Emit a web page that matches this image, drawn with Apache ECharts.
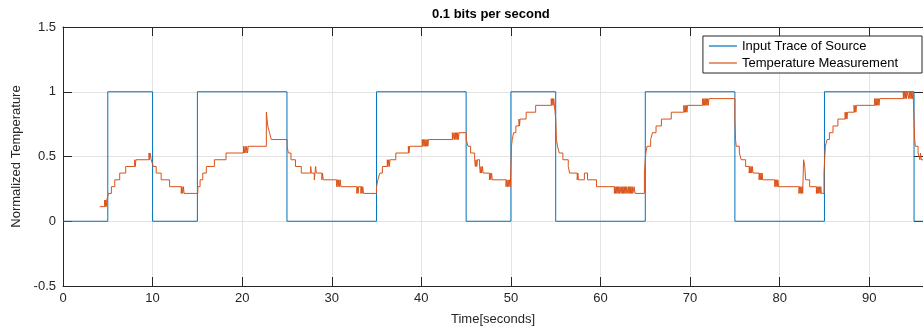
<!DOCTYPE html>
<html>
<head>
<meta charset="utf-8">
<script src="https://cdn.jsdelivr.net/npm/echarts@6/dist/echarts.min.js"></script>
<style>html,body{margin:0;padding:0;background:#fff}#chart{width:923px;height:331px}</style>
</head>
<body>
<div id="chart"></div>
<script>
// ---- data ----
const titleText = '0.1 bits per second';
const xAxisName = 'Time[seconds]';
const yAxisName = 'Normalized Temperature';
const seriesNames = ['Input Trace of Source', 'Temperature Measurement'];
const xTicks = [0, 10, 20, 30, 40, 50, 60, 70, 80, 90];
const yTicks = [-0.5, 0, 0.5, 1, 1.5];

// input square wave: value holds from each time until the next
const inputTimes  = [0, 5, 10, 15, 25, 35, 45, 50, 55, 65, 75, 85, 95, 100];
const inputValues = [0, 1, 0,  1,  0,  1,  0,  1,  0,  1,  0,  1,  0,  0];

// temperature measurement: [time, value], value holds until next sample
const tempSamples = [
[4.1,0.113],
[4.65,0.164],[4.71,0.113],[4.77,0.164],[4.83,0.113],[4.89,0.164],
[5.08,0.215],[5.4,0.267],[5.78,0.32],[6.33,0.372],[7.0,0.423],
[8.0,0.475],[8.07,0.423],[8.14,0.475],
[9.6,0.527],[9.66,0.475],[9.72,0.527],
[9.85,0.475],
[10.07,0.423],[10.4,0.372],[10.96,0.32],[11.9,0.267],
[13.2,0.215],[13.28,0.267],[13.36,0.215],[13.44,0.267],[13.52,0.215],
[15.05,0.267],[15.3,0.32],[15.6,0.372],[16.0,0.423],
[16.9,0.475],[18.2,0.527],
[20.15,0.579],[20.24,0.527],[20.33,0.579],[20.42,0.527],[20.51,0.579],[20.6,0.527],[20.68,0.579],
[22.7,0.842],[22.78,0.789],[22.86,0.736],[23.05,0.684],[23.25,0.631],
[25.02,0.579],[25.15,0.527],[25.45,0.475],[25.95,0.423],[26.6,0.372],
[27.65,0.423],[27.72,0.372],[28.05,0.32],[28.13,0.372],[28.2,0.423],[28.27,0.372],
[28.9,0.32],[28.97,0.372],[29.05,0.32],
[30.55,0.267],[30.63,0.32],[30.71,0.267],[30.79,0.32],[30.87,0.267],[30.95,0.32],[31.02,0.267],
[32.8,0.215],[32.87,0.267],[32.94,0.215],[33.01,0.267],[33.25,0.215],[33.32,0.267],[33.39,0.215],[33.46,0.267],[33.55,0.215],
[35.0,0.267],[35.15,0.32],[35.37,0.372],[35.65,0.423],
[36.2,0.475],[36.28,0.423],[36.36,0.475],[36.44,0.423],[36.5,0.475],
[37.15,0.527],
[38.55,0.579],[38.62,0.527],[38.69,0.579],
[40.1,0.631],[40.17,0.579],[40.24,0.631],[40.31,0.579],[40.38,0.631],[40.45,0.579],[40.52,0.631],[40.59,0.579],[40.66,0.631],[40.73,0.579],[40.8,0.631],
[43.46,0.684],[43.52,0.631],[43.65,0.684],[43.72,0.631],[43.79,0.684],[43.86,0.631],[43.93,0.684],[44.0,0.631],[44.07,0.684],[44.14,0.631],[44.2,0.684],
[45.02,0.631],[45.2,0.579],[45.5,0.527],
[45.95,0.475],[46.03,0.423],[46.11,0.475],[46.19,0.423],[46.27,0.475],
[46.5,0.423],[46.58,0.372],[46.66,0.423],[46.74,0.372],[46.82,0.423],
[46.9,0.372],
[47.6,0.32],[47.68,0.372],[47.76,0.32],[47.84,0.372],[47.92,0.32],
[49.45,0.267],[49.53,0.32],[49.61,0.267],[49.69,0.32],[49.77,0.267],[49.85,0.32],[49.93,0.267],
[50.0,0.423],[50.06,0.579],[50.15,0.631],[50.3,0.684],[50.55,0.736],
[50.9,0.789],[50.96,0.736],[51.02,0.789],
[51.7,0.842],[52.76,0.895],
[54.5,0.947],[54.57,0.895],[54.64,0.947],[54.71,0.895],[54.78,0.947],
[55.0,0.789],[55.08,0.631],[55.2,0.579],[55.4,0.527],[55.8,0.475],[56.4,0.423],[56.55,0.372],
[57.4,0.32],[57.47,0.372],[57.54,0.32],
[58.2,0.372],[58.55,0.32],
[59.55,0.267],
[61.55,0.215],[61.62,0.267],[61.69,0.215],[61.76,0.267],[61.83,0.215],[61.9,0.267],[61.97,0.215],[62.04,0.267],[62.11,0.215],[62.18,0.267],
[62.3,0.215],[62.37,0.267],[62.44,0.215],[62.51,0.267],[62.58,0.215],[62.65,0.267],[62.72,0.215],[62.79,0.267],[62.86,0.215],[62.93,0.267],
[63.05,0.215],[63.12,0.267],[63.19,0.215],[63.26,0.267],[63.33,0.215],[63.4,0.267],[63.47,0.215],[63.54,0.267],[63.61,0.215],[63.75,0.267],[63.85,0.215],
[64.9,0.372],[65.0,0.475],[65.06,0.527],[65.2,0.579],[65.6,0.631],[65.8,0.684],[66.2,0.736],[66.8,0.789],[67.9,0.842],
[69.3,0.895],[69.37,0.842],[69.44,0.895],[69.51,0.842],[69.58,0.895],[69.65,0.842],[69.72,0.895],
[71.4,0.947],[71.47,0.895],[71.54,0.947],[71.61,0.895],[71.68,0.947],[71.75,0.895],[71.82,0.947],[71.89,0.895],[71.96,0.947],[72.03,0.895],[72.1,0.947],
[75.0,0.789],[75.07,0.631],[75.15,0.579],[75.5,0.527],[75.7,0.475],[76.2,0.423],
[76.6,0.372],[76.67,0.423],[76.74,0.372],[76.81,0.423],[76.88,0.372],[76.95,0.423],[77.02,0.372],
[77.7,0.32],[77.77,0.372],[77.84,0.32],[77.91,0.372],[77.98,0.32],[78.05,0.372],[78.1,0.32],
[79.45,0.267],[79.52,0.32],[79.59,0.267],[79.66,0.32],[79.73,0.267],[79.8,0.32],[79.87,0.267],
[82.15,0.215],[82.22,0.267],[82.29,0.215],[82.36,0.267],[82.43,0.215],[82.5,0.267],[82.57,0.215],
[82.67,0.475],[82.8,0.423],[82.9,0.32],[83.35,0.267],
[84.1,0.215],[84.17,0.267],[84.24,0.215],[84.31,0.267],[84.38,0.215],[84.45,0.267],[84.52,0.215],[84.59,0.267],[84.66,0.215],
[84.95,0.372],[85.02,0.475],[85.1,0.579],[85.3,0.631],[85.55,0.684],[85.95,0.736],[86.5,0.789],
[87.3,0.842],[87.37,0.789],[87.44,0.842],[87.51,0.789],[87.58,0.842],
[88.3,0.895],[88.37,0.842],[88.44,0.895],[88.51,0.842],[88.58,0.895],
[90.6,0.947],[90.67,0.895],[90.74,0.947],[90.81,0.895],[90.88,0.947],[90.95,0.895],[91.02,0.947],[91.09,0.895],[91.16,0.947],
[93.8,1.0],[93.87,0.947],[93.94,1.0],[94.01,0.947],[94.08,1.0],[94.15,0.947],[94.22,1.0],
[94.4,0.947],[94.47,1.0],[94.54,0.947],[94.61,1.0],[94.68,0.947],[94.75,1.0],[94.82,0.947],[94.9,1.0],
[95.0,0.789],[95.07,0.631],[95.15,0.579],[95.45,0.527],[95.65,0.475],[95.72,0.527],[95.8,0.475],[96.0,0.475]
];

// ---- chart ----
const inputData = inputTimes.map((t, i) => [t, inputValues[i]]);
const FONT = '"Liberation Sans", Arial, sans-serif';
const AX = '#262626';
const chart = echarts.init(document.getElementById('chart'), null, {renderer: 'canvas'});

const baseX = {
  type: 'value', min: 0, max: 96, interval: 10,
  axisLine: {show: true, onZero: false, lineStyle: {color: AX, width: 1}},
  axisTick: {show: true, inside: true, length: 9, lineStyle: {color: AX}},
};
const baseY = {
  type: 'value', min: -0.5, max: 1.5, interval: 0.5,
  axisLine: {show: true, onZero: false, lineStyle: {color: AX, width: 1}},
  axisTick: {show: true, inside: true, length: 9, lineStyle: {color: AX}},
};

chart.setOption({
  animation: false,
  backgroundColor: '#fff',
  textStyle: {fontFamily: FONT},
  title: {
    text: titleText, left: 432, top: 8, padding: 0,
    textStyle: {fontFamily: FONT, fontSize: 13, fontWeight: 'bold', color: '#000'}
  },
  legend: {
    data: seriesNames, orient: 'vertical', right: 1, top: 36,
    icon: 'rect', itemWidth: 28, itemHeight: 1.2, itemGap: 1,
    padding: [2, 24, 2, 6],
    borderColor: AX, borderWidth: 1, backgroundColor: '#fff', borderRadius: 0,
    textStyle: {fontFamily: FONT, fontSize: 13, lineHeight: 16, color: '#000'}
  },
  grid: {left: 63, right: 0, top: 27, bottom: 44, containLabel: false},
  xAxis: [
    Object.assign({}, baseX, {
      position: 'bottom',
      name: xAxisName, nameLocation: 'middle', nameGap: 27,
      nameTextStyle: {fontFamily: FONT, fontSize: 13, color: AX},
      axisLabel: {fontFamily: FONT, fontSize: 13, color: AX, margin: 6, showMaxLabel: false,
        formatter: v => xTicks.indexOf(v) >= 0 ? String(v) : ''},
      splitLine: {show: true, lineStyle: {color: '#e3e3e3', width: 1}}
    }),
    Object.assign({}, baseX, {
      position: 'top', axisLabel: {show: false}, splitLine: {show: false}
    })
  ],
  yAxis: [
    Object.assign({}, baseY, {
      position: 'left',
      name: yAxisName, nameLocation: 'middle', nameGap: 37,
      nameTextStyle: {fontFamily: FONT, fontSize: 13, color: AX},
      axisLabel: {fontFamily: FONT, fontSize: 13, color: AX, margin: 7,
        formatter: v => yTicks.indexOf(v) >= 0 ? String(v) : ''},
      splitLine: {show: true, lineStyle: {color: '#e3e3e3', width: 1}}
    }),
    Object.assign({}, baseY, {
      position: 'right', axisLabel: {show: false}, splitLine: {show: false}
    })
  ],
  series: [
    {
      name: seriesNames[0], type: 'line', step: 'end', data: inputData,
      xAxisIndex: 0, yAxisIndex: 0, symbol: 'none',
      lineStyle: {color: '#0072BD', width: 1}, itemStyle: {color: '#0072BD'}
    },
    {
      name: seriesNames[1], type: 'line', step: 'end', data: tempSamples,
      xAxisIndex: 0, yAxisIndex: 0, symbol: 'none',
      lineStyle: {color: '#D95319', width: 1}, itemStyle: {color: '#D95319'}
    }
  ]
});
</script>
</body>
</html>
